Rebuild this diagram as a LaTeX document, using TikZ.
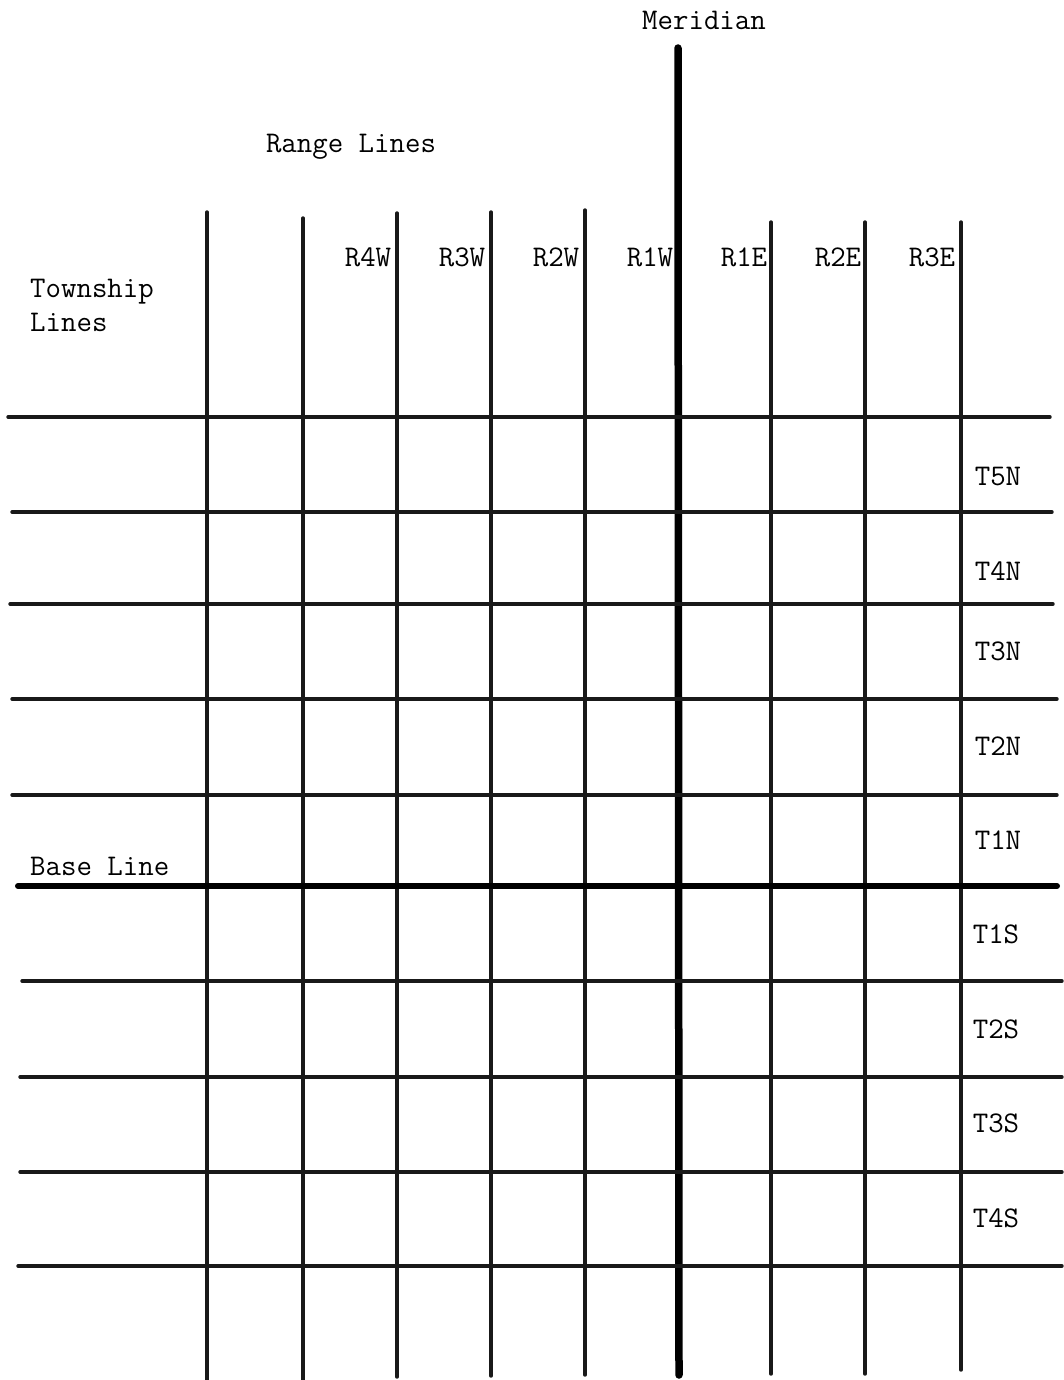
\documentclass[tikz,border=0pt]{standalone}
\usepackage{fontspec}
\begin{document}
\begin{tikzpicture}[x=1pt,y=-1pt,
  gridline/.style={line width=3.4pt,line cap=round,black!90},
  meridianline/.style={line width=7.5pt,line cap=round},
  baseline/.style={line width=6pt,line cap=round},
  lab/.style={font=\ttfamily\fontsize{30}{35}\selectfont,inner sep=0pt},
]
\useasboundingbox (0,0) rectangle (1063,1380);
% vertical range lines: name, x, top, bottom
\foreach \n/\x/\t/\b in {v1/207/212/1382,v2/303/218/1382,v3/397/213/1377,v4/491/212/1376,v5/585/210/1375,v7/771/222/1374,v8/865/222/1374,v9/961/222/1370}{
  \coordinate (\n t) at (\x,\t);
  \coordinate (\n b) at (\x,\b);
  \draw[gridline] (\n t) -- (\n b);
}
\coordinate (mt) at (678,48);
\coordinate (mb) at (679,1375);
\draw[meridianline] (mt) -- (mb);
% horizontal township lines
\foreach \n/\y/\l/\r in {h1/417/8/1050,h2/512/12/1052,h3/604/10/1053,h4/699/12/1057,h5/795/12/1057,h7/981/22/1062,h8/1077/20/1062,h9/1172/20/1062,h10/1266/18/1062}{
  \coordinate (\n l) at (\l,\y);
  \coordinate (\n r) at (\r,\y);
  \draw[gridline] (\n l) -- (\n r);
}
\coordinate (bl) at (18,886);
\coordinate (br) at (1057,886);
\draw[baseline] (bl) -- (br);
% range labels
\foreach \n/\x/\s in {r4w/368/R4W,r3w/462/R3W,r2w/556/R2W,r1w/650/R1W,r1e/744/R1E,r2e/838/R2E,r3e/932/R3E}{
  \node[lab] (\n) at (\x,257) {\s};
}
% township labels
\foreach \n/\x/\y/\s in {t5n/998/477/T5N,t4n/998/571/T4N,t3n/998/651/T3N,t2n/998/746/T2N,t1n/998/840/T1N,t1s/996/934/T1S,t2s/996/1029/T2S,t3s/996/1123/T3S,t4s/996/1218/T4S}{
  \node[lab] (\n) at (\x,\y) {\s};
}
\node[lab] (meridian) at (704,20) {Meridian};
\node[lab] (range) at (351,147) {Range Lines};
\node[lab,anchor=west] (township) at (30,292) {Township};
\node[lab,anchor=west] (lines) at (30,322) {Lines};
\node[lab,anchor=west] (base) at (30,866) {Base Line};
\end{tikzpicture}
\end{document}
